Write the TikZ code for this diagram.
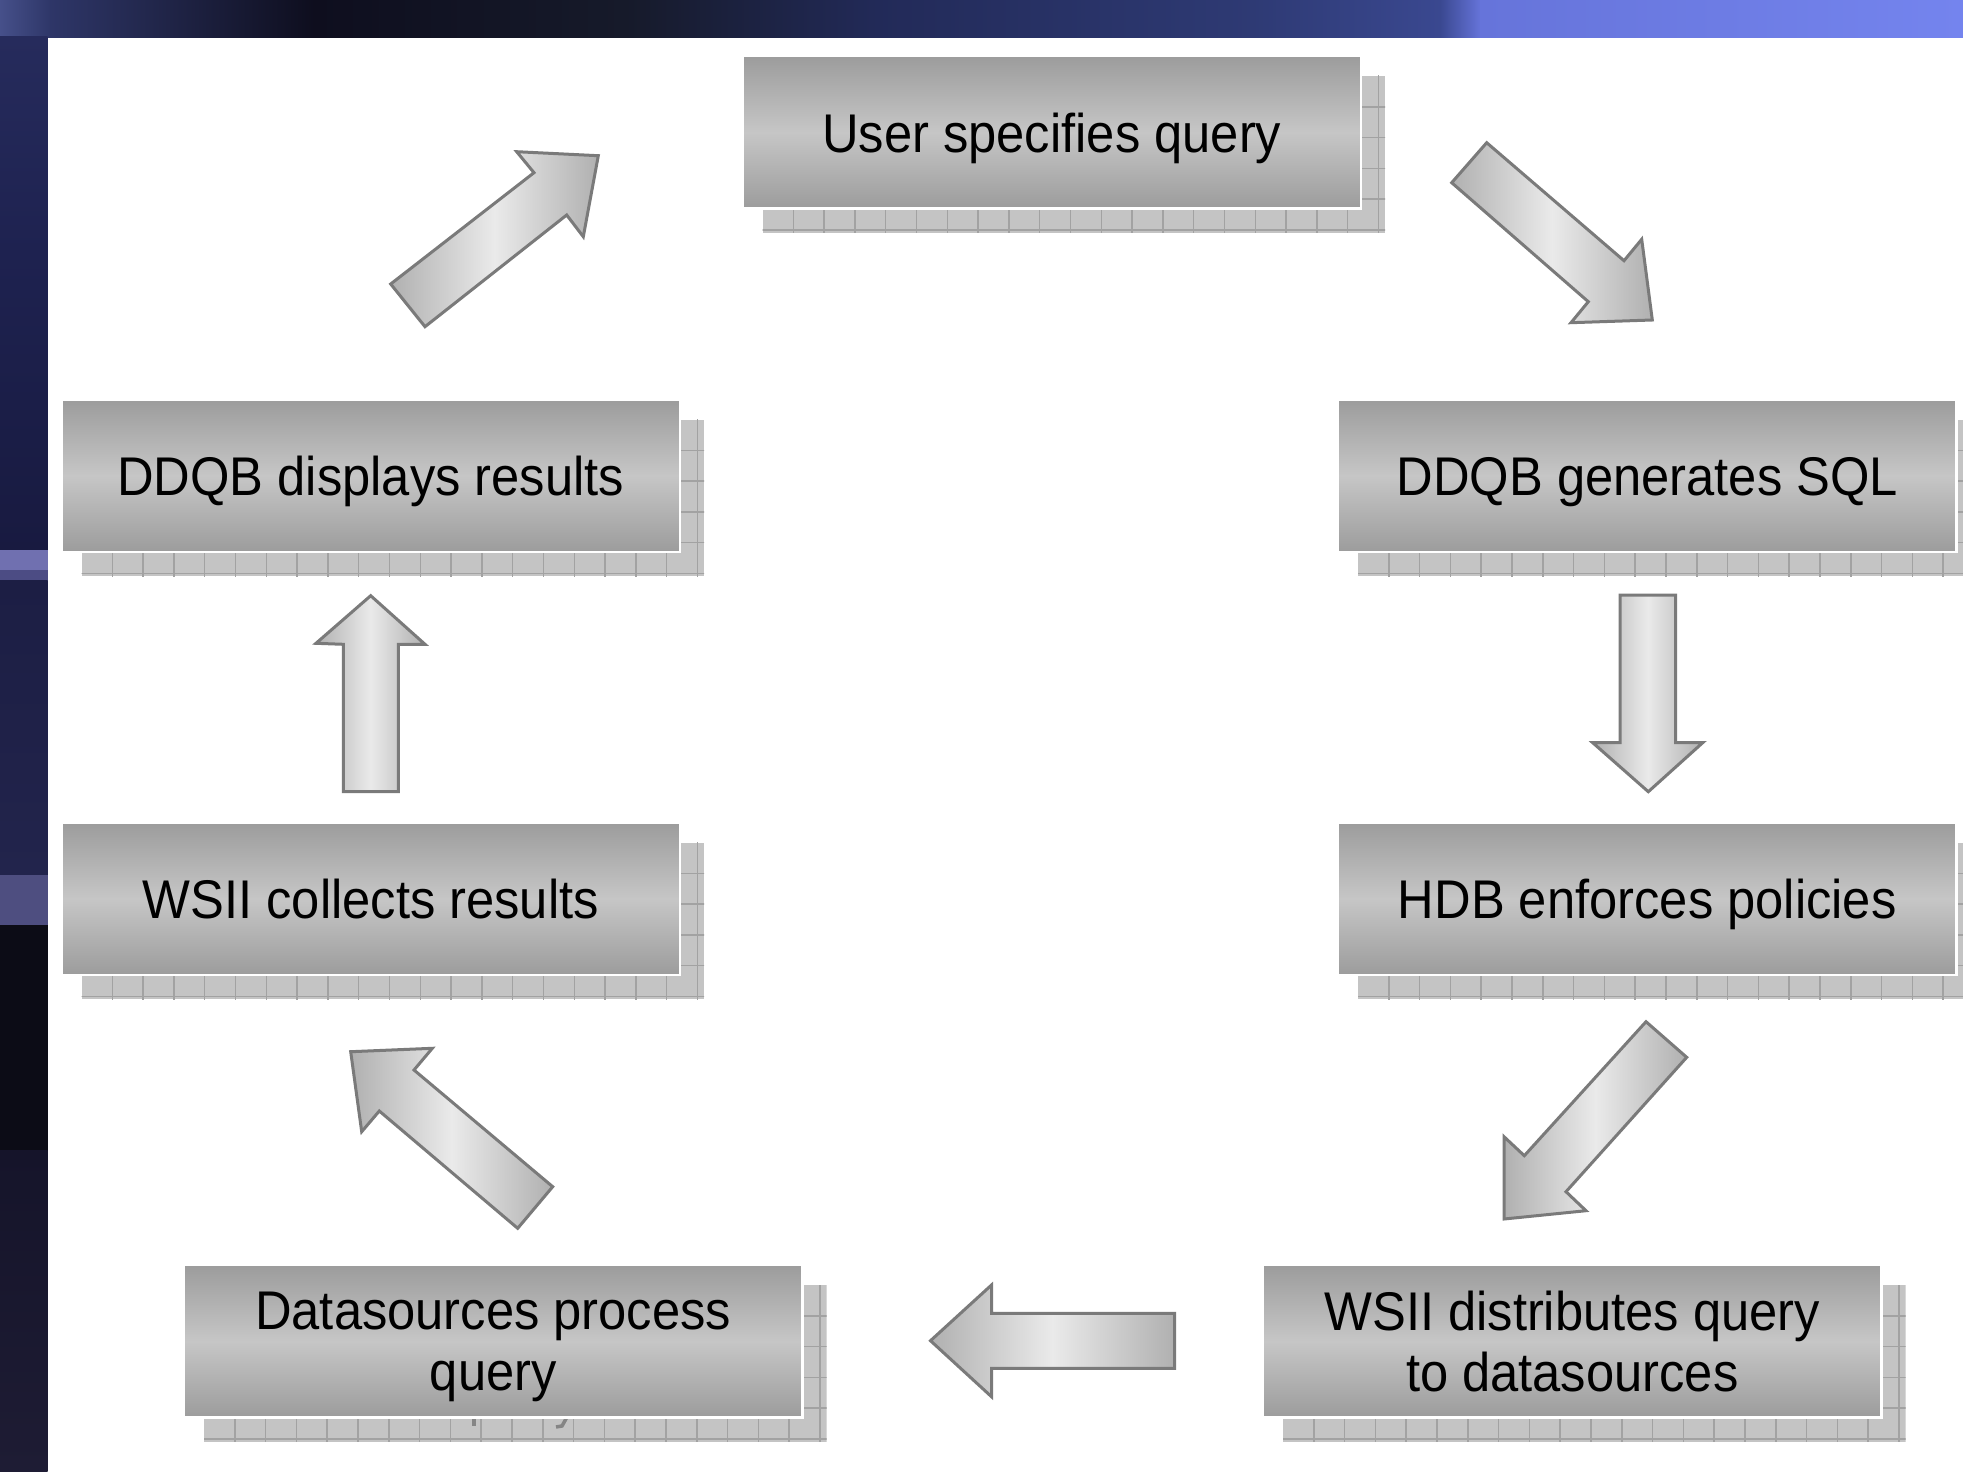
\documentclass[tikz,border=0pt]{standalone}
\usepackage{fontspec}
\newfontfamily\boxfamily{Liberation Sans}[FakeStretch=0.93]
\newcommand\boxfont{\boxfamily\fontsize{54.5pt}{61pt}\selectfont}
\definecolor{boxdark}{HTML}{9C9C9C}
\definecolor{boxlight}{HTML}{C6C6C6}
\definecolor{shadowgray}{HTML}{C4C4C4}
\definecolor{gridgray}{HTML}{A2A2A2}
\definecolor{arrowedge}{HTML}{7A7A7A}
\definecolor{arrowdark}{HTML}{B0B0B0}
\definecolor{arrowlight}{HTML}{EAEAEA}
\definecolor{ghostgray}{HTML}{858585}
\definecolor{bgA}{HTML}{46508A}
\definecolor{bgB}{HTML}{2E3668}
\definecolor{bgC}{HTML}{0E0E1E}
\definecolor{bgD}{HTML}{161A2A}
\definecolor{bgE}{HTML}{222A58}
\definecolor{bgF}{HTML}{2E3A74}
\definecolor{bgG}{HTML}{3A4890}
\definecolor{bgH}{HTML}{6674DA}
\definecolor{bgI}{HTML}{7484EE}
\definecolor{lbA}{HTML}{262B5C}
\definecolor{lbB}{HTML}{1E2250}
\definecolor{lbC}{HTML}{181A40}
\definecolor{lbD}{HTML}{7070B0}
\definecolor{lbE}{HTML}{4C4C84}
\definecolor{lbF}{HTML}{1C1E44}
\definecolor{lbG}{HTML}{22244C}
\definecolor{lbH}{HTML}{4E4E80}
\definecolor{lbI}{HTML}{0C0C16}
\definecolor{lbJ}{HTML}{15142A}
\definecolor{lbK}{HTML}{1E1C34}
\newcommand\drawboxshadow[2]{%
  \begin{scope}
    \clip (#1+20,#2+20) rectangle (#1+642.5,#2+176.5);
    \fill[shadowgray] (#1+20,#2+20) rectangle (#1+642.5,#2+176.5);
    \foreach \k in {1,...,21} \draw[gridline] (#1+20+30.8*\k,#2) -- (#1+20+30.8*\k,#2+200);
    \foreach \k in {1,...,5} \draw[gridline] (#1,#2+20+30.8*\k) -- (#1+700,#2+20+30.8*\k);
  \end{scope}}
\begin{document}
\begin{tikzpicture}[x=1pt,y=-1pt,
  stepbox/.style={rectangle, minimum width=618.5pt, minimum height=152.5pt,
    inner sep=0pt, outer sep=0pt, draw=white, line width=2.5pt,
    top color=boxdark, bottom color=boxdark, middle color=boxlight},
  boxtext/.style={font=\boxfont, align=center, inner sep=0pt, text=black},
  blockarrow/.style={draw=arrowedge, line width=3pt, line join=miter,
    left color=arrowdark, right color=arrowdark, middle color=arrowlight},
  gridline/.style={draw=gridgray, line width=1.5pt},
  ghoststroke/.style={draw=ghostgray, line width=4pt, line cap=butt}]
\useasboundingbox (0,0) rectangle (1963,1472);
\fill[white] (0,0) rectangle (1963,1472);
% top band
\shade[left color=bgA,right color=bgB] (0,0) rectangle (51,37.6);
\shade[left color=bgB,right color=bgC] (50,0) rectangle (314,37.6);
\shade[left color=bgC,right color=bgD] (313,0) rectangle (627,37.6);
\shade[left color=bgD,right color=bgE] (626,0) rectangle (877,37.6);
\shade[left color=bgE,right color=bgF] (876,0) rectangle (1253,37.6);
\shade[left color=bgF,right color=bgG] (1252,0) rectangle (1441,37.6);
\shade[left color=bgG,right color=bgH] (1440,0) rectangle (1481,37.6);
\shade[left color=bgH,right color=bgI] (1480,0) rectangle (1963,37.6);
% left band
\shade[top color=lbA,bottom color=lbB] (0,37) rectangle (47.6,251);
\shade[top color=lbB,bottom color=lbC] (0,250) rectangle (47.6,551);
\fill[lbD] (0,550) rectangle (47.6,571);
\fill[lbE] (0,570) rectangle (47.6,581);
\shade[top color=lbF,bottom color=lbG] (0,580) rectangle (47.6,876);
\fill[lbH] (0,875) rectangle (47.6,926);
\fill[lbI] (0,925) rectangle (47.6,1151);
\shade[top color=lbJ,bottom color=lbK] (0,1150) rectangle (47.6,1472);
% shadows
\drawboxshadow{742.5}{56}
\drawboxshadow{1338}{399.5}
\drawboxshadow{61.5}{399.5}
\drawboxshadow{1338}{822.5}
\drawboxshadow{61.5}{822.5}
\drawboxshadow{1263}{1265}
\drawboxshadow{184}{1265}
% shadowed descenders of the second line of box 7
\draw[ghoststroke] (474,1417) -- (474,1426);
\draw[ghoststroke, line width=3.5pt] (567,1417) -- (562,1426) -- (556,1427);
% boxes
\node[stepbox] (b1) at (1051.75,132.25) {};
\node[stepbox] (b2) at (1647.25,475.75) {};
\node[stepbox] (b3) at (370.75,475.75) {};
\node[stepbox] (b4) at (1647.25,898.75) {};
\node[stepbox] (b5) at (370.75,898.75) {};
\node[stepbox] (b6) at (1572.25,1341.25) {};
\node[stepbox] (b7) at (493.25,1341.25) {};
\node[boxtext] (t1) at ([yshift=-6pt]b1.center) {User specifies query};
\node[boxtext] (t2) at ([yshift=-6pt]b2.center) {DDQB generates SQL};
\node[boxtext] (t3) at ([yshift=-6pt]b3.center) {DDQB displays results};
\node[boxtext] (t4) at ([yshift=-6pt]b4.center) {HDB enforces policies};
\node[boxtext] (t5) at ([yshift=-6pt]b5.center) {WSII collects results\vphantom{y}};
\node[boxtext] (t6) at ([yshift=-6pt]b6.center) {WSII distributes query\\to datasources\vphantom{y}};
\node[boxtext] (t7) at ([yshift=-6pt]b7.center) {Datasources process\\query};
% block arrows
\draw[blockarrow] (390.7,284) -- (534,172.7) -- (516.7,151.7) -- (598.3,155.7) -- (583.3,236.7) -- (566.7,215) -- (425,326.7) -- cycle;
\draw[blockarrow] (1486.7,142.7) -- (1624,260.7) -- (1641.7,239.3) -- (1652.3,320) -- (1571,322.7) -- (1588.3,301.7) -- (1451.7,182.7) -- cycle;
\draw[blockarrow] (1620,595) -- (1675.7,595) -- (1675.7,742.7) -- (1702.7,742.7) -- (1648.3,791.7) -- (1592.7,742.7) -- (1620,742.7) -- cycle;
\draw[blockarrow] (1646,1021.7) -- (1686.7,1057.3) -- (1566,1191.7) -- (1586,1210.7) -- (1504,1219) -- (1504,1136.7) -- (1524.3,1155.7) -- cycle;
\draw[blockarrow] (1174.6,1313.3) -- (1174.6,1368.3) -- (991.5,1368.3) -- (991.5,1396.7) -- (930.5,1340.7) -- (991.5,1285) -- (991.5,1313.3) -- cycle;
\draw[blockarrow] (552.7,1186.7) -- (414,1070) -- (432.3,1048.3) -- (350.7,1051.7) -- (361.7,1131.7) -- (379.3,1111) -- (517.7,1228.3) -- cycle;
\draw[blockarrow] (343.3,791.7) -- (398.3,791.7) -- (398.3,644.3) -- (425,644.3) -- (370.7,595.7) -- (316,643.3) -- (343.3,644.3) -- cycle;
\end{tikzpicture}
\end{document}
